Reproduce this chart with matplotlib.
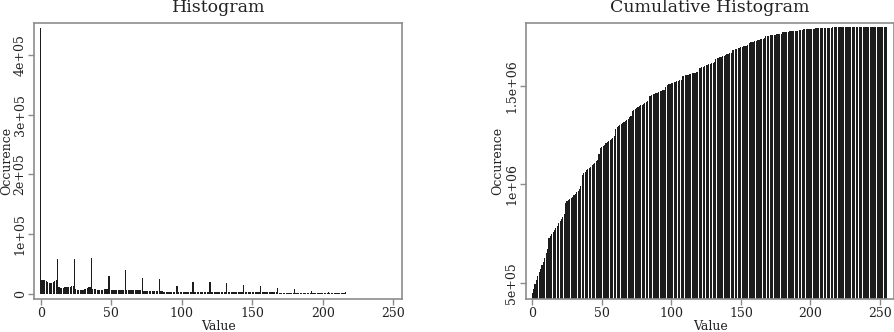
import numpy as np
import matplotlib.pyplot as plt

plt.rcParams['font.family'] = ['DejaVu Serif']

# grey values 0..255
values = np.arange(256)

# occurrences per grey value (thousands), one row = 12 values
counts_k = [
    445, 23.5, 23, 22.5, 21, 19, 18, 17.5, 18, 20, 21.5, 22,
    58, 10.5, 10, 10, 10, 10.5, 10.5, 11, 11, 11.5, 12, 12.5,
    58, 7, 6.5, 6, 6, 6, 6.5, 7, 7.5, 9, 10.5, 11,
    60, 7.5, 7, 7, 6.5, 6.5, 6.5, 6.5, 6.5, 7, 7, 7.5,
    30, 29, 6, 6, 6, 6, 6, 6, 6, 6, 6, 6,
    40, 6, 6, 5.5, 5.5, 5.5, 5.5, 5.5, 5.5, 5.5, 5.5, 5.5,
    26, 5, 5, 5, 5, 5, 4.5, 4.5, 4.5, 4.5, 4.5, 4.5,
    24, 3.5, 3.5, 3, 3, 3, 3, 3, 3, 3, 3, 3,
    13, 12, 2.5, 2.5, 2.5, 2.5, 2.5, 2.5, 2.5, 2.5, 2.5, 2.5,
    19, 2, 2, 2, 2, 2, 2, 2, 2, 2, 2, 2,
    19, 2.6, 2.6, 2.6, 2.6, 2.6, 2.6, 2.6, 2.6, 2.6, 2.6, 2.6,
    18, 2.8, 2.8, 2.8, 2.8, 2.8, 2.8, 2.8, 2.8, 2.8, 2.8, 2.8,
    14, 2.5, 2.5, 2.5, 2.5, 2.5, 2, 2, 2, 2, 2, 2,
    12, 2.2, 2.2, 2.2, 2.2, 2.2, 2.2, 2.2, 2.2, 2.2, 2.2, 2.2,
    10, 1.2, 1.2, 1.2, 1.2, 1.2, 1.2, 1.2, 1.2, 1.2, 1.2, 1.2,
    7, 0.7, 0.7, 0.7, 0.7, 0.7, 0.7, 0.7, 0.7, 0.7, 0.7, 0.7,
    5, 0.4, 0.4, 0.4, 0.4, 0.4, 0.4, 0.4, 0.4, 0.4, 0.4, 0.4,
    3, 0.2, 0.2, 0.2, 0.2, 0.2, 0.2, 0.2, 0.2, 0.2, 0.2, 0.2,
    2.5, 0.1, 0.1, 0.1, 0.1, 0.1, 0.1, 0.1, 0.1, 0.1, 0.1, 0.1,
    0, 0, 0, 0, 0, 0, 0, 0, 0, 0, 0, 0,
    0, 0, 0, 0, 0, 0, 0, 0, 0, 0, 0, 0,
    0, 0, 0, 0,
]

x_ticks = [0, 50, 100, 150, 200, 250]
hist_yticks = [0, 1e5, 2e5, 3e5, 4e5]
hist_ylabels = ['0', '1e+05', '2e+05', '3e+05', '4e+05']
cum_yticks = [5e5, 1e6, 1.5e6]
cum_ylabels = ['5e+05', '1e+06', '1.5e+06']

counts = np.array(counts_k) * 1000
cumulative = np.cumsum(counts)

FRAME = '#8c8c8c'
TEXT = '#222222'


def style_axis(ax, yticks, ylabels):
    for s in ax.spines.values():
        s.set_color(FRAME)
        s.set_linewidth(1.2)
    ax.set_xticks(x_ticks)
    ax.set_yticks(yticks)
    ax.set_yticklabels(ylabels, rotation=90, va='center')
    ax.tick_params(length=4, width=1, color=FRAME, labelcolor=TEXT,
                   labelsize=9, pad=1.5)
    ax.set_xlabel('Value', fontsize=9, labelpad=0, color=TEXT)
    ax.set_ylabel('Occurence', fontsize=9, labelpad=0.5, color=TEXT)


fig = plt.figure(figsize=(8.95, 3.32), dpi=100)

# 左图：直方图
ax1 = fig.add_axes([0.0383, 0.0994, 0.4112, 0.8322])
ax1.bar(values, counts, width=0.8, color='#1c1c1c', linewidth=0)
ax1.set_xlim(-4.5, 256.3)
ax1.set_ylim(-9.1e3, 4.54e5)
ax1.set_title('Histogram', fontsize=12.5, pad=8, color=TEXT)
style_axis(ax1, hist_yticks, hist_ylabels)

# 右图：累积直方图
ax2 = fig.add_axes([0.5874, 0.0994, 0.4118, 0.8322])
ax2.bar(values, cumulative, width=0.8, color='#1c1c1c', linewidth=0)
ax2.set_xlim(-4.7, 260.3)
ax2.set_ylim(4.17e5, 1.822e6)
ax2.set_title('Cumulative Histogram', fontsize=12.5, pad=8, color=TEXT)
style_axis(ax2, cum_yticks, cum_ylabels)

fig.savefig('out.png', dpi=100)
